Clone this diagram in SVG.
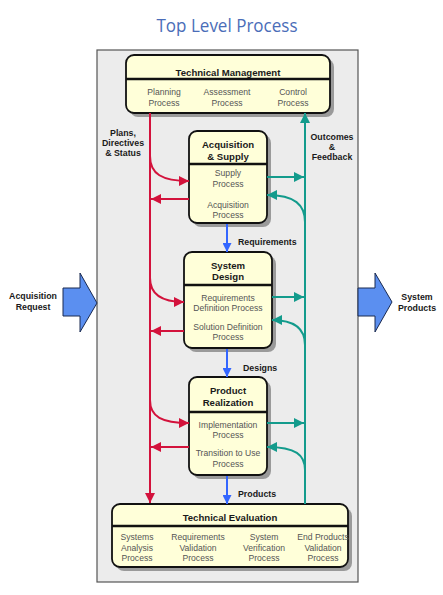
<svg xmlns="http://www.w3.org/2000/svg" width="443" height="595" viewBox="0 0 443 595">
<style>
.box{fill:#ffffd9;stroke:#111;stroke-width:1.8}
.shadow{fill:#9a9a9a}
.div{stroke:#111;stroke-width:2.5}
.t{font-family:"Liberation Sans",Arial,sans-serif;font-weight:bold;font-size:9.6px;fill:#1a1a1a;text-anchor:middle}
.s{font-family:"Liberation Sans",Arial,sans-serif;font-size:8.6px;fill:#555;text-anchor:middle}
.l{font-family:"Liberation Sans",Arial,sans-serif;font-weight:bold;font-size:8.8px;fill:#1a1a1a}
.lc{text-anchor:middle}
.red{stroke:#d3123c;stroke-width:2;fill:none;marker-end:url(#mr)}
.teal{stroke:#139b8c;stroke-width:2;fill:none;marker-end:url(#mt)}
.blue{stroke:#3366ff;stroke-width:2;fill:none;marker-end:url(#mb)}
.big{fill:#5b8ff0;stroke:#1a2a50;stroke-width:1}
</style>
<defs>
<marker id="mr" viewBox="0 0 10 10" refX="10" refY="5" markerWidth="10" markerHeight="10" markerUnits="userSpaceOnUse" orient="auto"><path d="M0,0 L10,5 L0,10 z" fill="#d3123c"/></marker>
<marker id="mt" viewBox="0 0 10 10" refX="10" refY="5" markerWidth="10" markerHeight="10" markerUnits="userSpaceOnUse" orient="auto"><path d="M0,0 L10,5 L0,10 z" fill="#139b8c"/></marker>
<marker id="mb" viewBox="0 0 10 10" refX="10" refY="5" markerWidth="9" markerHeight="9" markerUnits="userSpaceOnUse" orient="auto"><path d="M0,0 L10,5 L0,10 z" fill="#3366ff"/></marker>
</defs>
<rect width="443" height="595" fill="#fff"/>
<text x="227" y="32" font-family="'Open Sans','Noto Sans',sans-serif" font-size="18" fill="#4a6db8" text-anchor="middle" textLength="141" lengthAdjust="spacingAndGlyphs">Top Level Process</text>
<rect id="panel" x="97" y="50" width="261" height="532" fill="#ececec" stroke="#555" stroke-width="1.2"/>

<g id="acquisition-request">
<polygon class="big" points="63,288 80,288 80,273 97,303 80,332 80,316 63,316"/>
<text class="l lc" x="33" y="299">Acquisition</text>
<text class="l lc" x="33" y="310">Request</text>
</g>
<g id="system-products">
<polygon class="big" points="358,288 375,288 375,273 392,302 375,332 375,316 358,316"/>
<text class="l lc" x="417" y="300">System</text>
<text class="l lc" x="417" y="311">Products</text>
</g>

<g id="technical-management">
<rect class="shadow" x="130" y="59" width="204" height="58" rx="8"/>
<rect class="box" x="126" y="55" width="204" height="58" rx="8"/>
<line class="div" x1="126" y1="79" x2="330" y2="79"/>
<text class="t" x="228" y="75.5">Technical Management</text>
<text class="s" x="164" y="95">Planning</text><text class="s" x="164" y="106">Process</text>
<text class="s" x="227" y="95">Assessment</text><text class="s" x="227" y="106">Process</text>
<text class="s" x="293" y="95">Control</text><text class="s" x="293" y="106">Process</text>
</g>

<g id="acquisition-supply">
<rect class="shadow" x="193" y="135" width="78" height="92" rx="8"/>
<rect class="box" x="189" y="131" width="78" height="92" rx="8"/>
<line class="div" x1="189" y1="164" x2="267" y2="164"/>
<text class="t" x="228" y="148">Acquisition</text>
<text class="t" x="228" y="160">&amp; Supply</text>
<text class="s" x="228" y="176">Supply</text><text class="s" x="228" y="187">Process</text>
<text class="s" x="228" y="208">Acquisition</text><text class="s" x="228" y="218">Process</text>
</g>

<g id="system-design">
<rect class="shadow" x="188" y="256" width="88" height="96" rx="8"/>
<rect class="box" x="184" y="252" width="88" height="96" rx="8"/>
<line class="div" x1="184" y1="285" x2="272" y2="285"/>
<text class="t" x="228" y="269">System</text>
<text class="t" x="228" y="280">Design</text>
<text class="s" x="228" y="301">Requirements</text><text class="s" x="228" y="311">Definition Process</text>
<text class="s" x="228" y="330">Solution Definition</text><text class="s" x="228" y="340">Process</text>
</g>

<g id="product-realization">
<rect class="shadow" x="193" y="381" width="78" height="98" rx="8"/>
<rect class="box" x="189" y="377" width="78" height="98" rx="8"/>
<line class="div" x1="189" y1="412" x2="267" y2="412"/>
<text class="t" x="228" y="394">Product</text>
<text class="t" x="228" y="406">Realization</text>
<text class="s" x="228" y="428">Implementation</text><text class="s" x="228" y="438">Process</text>
<text class="s" x="228" y="456">Transition to Use</text><text class="s" x="228" y="467">Process</text>
</g>

<g id="technical-evaluation">
<rect class="shadow" x="116" y="508" width="236" height="63" rx="8"/>
<rect class="box" x="112" y="504" width="236" height="63" rx="8"/>
<line class="div" x1="112" y1="526" x2="348" y2="526"/>
<text class="t" x="230" y="521">Technical Evaluation</text>
<text class="s" x="137" y="540">Systems</text><text class="s" x="137" y="551">Analysis</text><text class="s" x="137" y="561">Process</text>
<text class="s" x="198" y="540">Requirements</text><text class="s" x="198" y="551">Validation</text><text class="s" x="198" y="561">Process</text>
<text class="s" x="264" y="540">System</text><text class="s" x="264" y="551">Verification</text><text class="s" x="264" y="561">Process</text>
<text class="s" x="323" y="540">End Products</text><text class="s" x="323" y="551">Validation</text><text class="s" x="323" y="561">Process</text>
</g>

<g id="connectors">
<path class="red" d="M150,113 V503"/>
<path class="red" d="M150,156 C150,174 162,181 189,181"/>
<path class="red" d="M189,199 H151"/>
<path class="red" d="M150,278 C150,295 162,302 184,302"/>
<path class="red" d="M184,331 H151"/>
<path class="red" d="M150,400 C150,417 162,423 189,423"/>
<path class="red" d="M189,447 H151"/>
<path class="teal" d="M305,504 V113"/>
<path class="teal" d="M267,177 H304"/>
<path class="teal" d="M305,222 C305,205 295,195 267,195"/>
<path class="teal" d="M272,297 H304"/>
<path class="teal" d="M305,345 C305,330 296,320 272,320"/>
<path class="teal" d="M267,423 H304"/>
<path class="teal" d="M305,470 C305,455 296,447 267,447"/>
<path class="blue" d="M227,224 V252"/>
<path class="blue" d="M227,349 V377"/>
<path class="blue" d="M227,476 V504"/>
<text class="l" x="238" y="245">Requirements</text>
<text class="l" x="243" y="371">Designs</text>
<text class="l" x="238" y="497">Products</text>
<text class="l lc" x="123" y="136">Plans,</text>
<text class="l lc" x="123" y="146">Directives</text>
<text class="l lc" x="123" y="156">&amp; Status</text>
<text class="l lc" x="332" y="140">Outcomes</text>
<text class="l lc" x="332" y="150">&amp;</text>
<text class="l lc" x="332" y="160">Feedback</text>
</g>
</svg>
